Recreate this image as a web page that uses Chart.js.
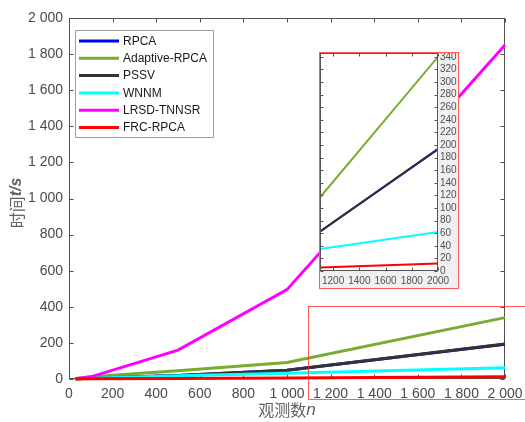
<!DOCTYPE html>
<html><head><meta charset="utf-8">
<script src="https://cdn.jsdelivr.net/npm/chart.js@4.4.0/dist/chart.umd.min.js"></script>
<style>
html,body{margin:0;padding:0;background:#fff;}
#wrap{position:relative;width:525px;height:422px;overflow:hidden;}
#main{position:absolute;left:0;top:0;}
#inset{position:absolute;left:319px;top:52px;background:#f0f0f0;}
</style></head><body>
<div id="wrap"><canvas id="main" width="525" height="422"></canvas><canvas id="inset" width="140" height="237"></canvas></div>
<script>
// ---- data ----
const nObs = [30, 100, 500, 1000, 2000];
const seriesNames = ['RPCA', 'Adaptive-RPCA', 'PSSV', 'WNNM', 'LRSD-TNNSR', 'FRC-RPCA'];
const rpcaT = [1, 4, 20, 48, 193];
const adaptiveT = [3, 13, 46, 92, 340];
const pssvT = [1, 4, 20, 48, 194];
const wnnmT = [1, 4, 18, 32, 62];
const lrsdT = [2, 12, 160, 495, 1850];
const frcT = [0.5, 1, 3, 5, 12];
const xTicksMain = [0, 200, 400, 600, 800, 1000, 1200, 1400, 1600, 1800, 2000];
const yTicksMain = [0, 200, 400, 600, 800, 1000, 1200, 1400, 1600, 1800, 2000];
const xTicksInset = [1200, 1400, 1600, 1800, 2000];
const yTicksInset = [0, 20, 40, 60, 80, 100, 120, 140, 160, 180, 200, 220, 240, 260, 280, 300, 320, 340];
const xTitleText = ['观测数', 'n'];
const yTitleText = ['时间', 't/s'];

// ---- styles ----
const seriesColors = ['#0000ff', '#77ac30', '#333333', '#00ffff', '#ff00ff', '#ff0000'];
const allT = [rpcaT, adaptiveT, pssvT, wnnmT, lrsdT, frcT];
const LAT = '"Liberation Sans", Arial, sans-serif';
const CJK = '"Noto Sans CJK SC", sans-serif';
const fmt = v => String(v).replace(/\B(?=(\d{3})+(?!\d))/g, ' ');

function makeDatasets(w, clip) {
  return seriesNames.map((name, i) => ({
    label: name,
    data: nObs.map((n, j) => ({x: n, y: allT[i][j]})),
    borderColor: seriesColors[i], backgroundColor: seriesColors[i],
    borderWidth: w, pointRadius: 0, tension: 0, fill: false, clip: clip,
    order: seriesNames.length - i
  }));
}
function zeroPad(s) { s.paddingTop = 0; s.paddingBottom = 0; s.paddingLeft = 0; s.paddingRight = 0; }

function drawBox(chart, ticksX, ticksY, len, color) {
  const ctx = chart.ctx, ca = chart.chartArea;
  const xs = chart.scales.x, ys = chart.scales.y;
  ctx.save();
  ctx.strokeStyle = color; ctx.lineWidth = 1;
  const L = Math.round(ca.left) + 0.5, R = Math.round(ca.right) - 0.5;
  const T = Math.round(ca.top) + 0.5, B = Math.round(ca.bottom) - 0.5;
  ctx.strokeRect(L, T, R - L, B - T);
  ctx.beginPath();
  ticksX.forEach(v => {
    const p = Math.round(xs.getPixelForValue(v)) + 0.5;
    ctx.moveTo(p, B); ctx.lineTo(p, B - len);
    ctx.moveTo(p, T); ctx.lineTo(p, T + len);
  });
  ticksY.forEach(v => {
    const p = Math.round(ys.getPixelForValue(v)) + 0.5;
    ctx.moveTo(L, p); ctx.lineTo(L + len, p);
    ctx.moveTo(R, p); ctx.lineTo(R - len, p);
  });
  ctx.stroke();
  ctx.restore();
}

function drawMixed(ctx, parts, fonts, cx, cy, rotate) {
  ctx.save();
  ctx.translate(cx, cy);
  if (rotate) ctx.rotate(-Math.PI / 2);
  let widths = parts.map((t, i) => { ctx.font = fonts[i]; return ctx.measureText(t).width; });
  let total = widths.reduce((a, b) => a + b, 0);
  let x = -total / 2;
  ctx.textBaseline = 'middle'; ctx.textAlign = 'left';
  parts.forEach((t, i) => { ctx.font = fonts[i]; ctx.fillText(t, x, 0); x += widths[i]; });
  ctx.restore();
}

const mainPlugin = {
  id: 'mainDeco',
  beforeDatasetsDraw(chart) {
    drawBox(chart, xTicksMain, yTicksMain, 4, '#505050');
  },
  afterDraw(chart) {
    const ctx = chart.ctx, ca = chart.chartArea;
    const xs = chart.scales.x, ys = chart.scales.y;
    // zoom region rectangle
    ctx.save();
    ctx.strokeStyle = 'rgba(255,40,40,0.75)'; ctx.lineWidth = 1;
    const x1 = Math.round(xs.getPixelForValue(1100)) - 0.5;
    const y1 = Math.round(ys.getPixelForValue(405)) + 0.5;
    const y2 = Math.round(ys.getPixelForValue(-110)) + 0.5;
    ctx.strokeRect(x1, y1, chart.width + 10 - x1, y2 - y1);
    ctx.restore();
    // legend
    ctx.save();
    const lx = ca.left + 6, ly = ca.top + 11.5, lw = 138, lh = 107;
    ctx.fillStyle = '#ffffff';
    ctx.fillRect(lx, ly, lw, lh);
    ctx.strokeStyle = '#a0a0a0'; ctx.lineWidth = 1;
    ctx.strokeRect(Math.round(lx) + 0.5, Math.round(ly) + 0.5, lw, lh);
    ctx.font = '12px ' + LAT; ctx.textBaseline = 'middle'; ctx.fillStyle = '#1a1a1a';
    chart.data.datasets.forEach((ds, i) => {
      const y = ly + 11.5 + i * 17.3;
      ctx.strokeStyle = ds.borderColor; ctx.lineWidth = 3;
      ctx.beginPath(); ctx.moveTo(lx + 4, y); ctx.lineTo(lx + 44, y); ctx.stroke();
      ctx.fillText(ds.label, lx + 48, y + 0.5);
    });
    ctx.restore();
    // axis titles
    ctx.save();
    ctx.fillStyle = '#606060';
    drawMixed(ctx, xTitleText, ['16px ' + CJK, 'italic 17px ' + LAT], (ca.left + ca.right) / 2, 410, false);
    drawMixed(ctx, yTitleText, ['16px ' + CJK, 'italic bold 16px ' + LAT], 17, 203, true);
    ctx.restore();
  }
};

new Chart(document.getElementById('main'), {
  type: 'line',
  data: {datasets: makeDatasets(3, false)},
  options: {
    responsive: false, animation: false, devicePixelRatio: 1,
    layout: {padding: {top: 18, right: 20, left: 0, bottom: 0}},
    plugins: {legend: {display: false}, tooltip: {enabled: false}},
    scales: {
      x: {
        type: 'linear', min: 0, max: 2000,
        afterBuildTicks: s => { s.ticks = xTicksMain.map(v => ({value: v})); },
        grid: {display: false, drawTicks: false}, border: {display: false},
        ticks: {callback: v => fmt(v), color: '#4a4a4a', font: {family: LAT, size: 14}, padding: 7, maxRotation: 0, autoSkip: false},
        afterFit: s => { s.height = 43; zeroPad(s); }
      },
      y: {
        type: 'linear', min: 0, max: 2000,
        afterBuildTicks: s => { s.ticks = yTicksMain.map(v => ({value: v})); },
        grid: {display: false, drawTicks: false}, border: {display: false},
        ticks: {callback: v => fmt(v), color: '#4a4a4a', font: {family: LAT, size: 14}, padding: 6, autoSkip: false},
        afterFit: s => { s.width = 69; zeroPad(s); }
      }
    }
  },
  plugins: [mainPlugin]
});

const insetPlugin = {
  id: 'insetDeco',
  beforeDatasetsDraw(chart) {
    const ctx = chart.ctx, ca = chart.chartArea;
    ctx.save(); ctx.fillStyle = '#ffffff';
    ctx.fillRect(ca.left, ca.top, ca.right - ca.left, ca.bottom - ca.top);
    ctx.restore();
  },
  afterDraw(chart) {
    drawBox(chart, xTicksInset, yTicksInset, 3, '#555555');
    const ctx = chart.ctx;
    ctx.save();
    ctx.strokeStyle = '#ff5a5a'; ctx.lineWidth = 1;
    ctx.strokeRect(0.5, 0.5, chart.width - 1, chart.height - 1);
    ctx.restore();
  }
};

new Chart(document.getElementById('inset'), {
  type: 'line',
  data: {datasets: makeDatasets(2, true)},
  options: {
    responsive: false, animation: false, devicePixelRatio: 1,
    layout: {padding: {top: 1, left: 1, right: 0, bottom: 0}},
    plugins: {legend: {display: false}, tooltip: {enabled: false}},
    scales: {
      x: {
        type: 'linear', min: 1100, max: 2000,
        afterBuildTicks: s => { s.ticks = xTicksInset.map(v => ({value: v})); },
        grid: {display: false, drawTicks: false}, border: {display: false},
        ticks: {callback: v => String(v), color: '#505050', font: {family: LAT, size: 10}, padding: 4, maxRotation: 0, autoSkip: false},
        afterFit: s => { s.height = 18; zeroPad(s); }
      },
      y: {
        type: 'linear', position: 'right', min: 0, max: 346,
        afterBuildTicks: s => { s.ticks = yTicksInset.map(v => ({value: v})); },
        grid: {display: false, drawTicks: false}, border: {display: false},
        ticks: {callback: v => String(v), color: '#505050', font: {family: LAT, size: 10}, padding: 2, autoSkip: false},
        afterFit: s => { s.width = 21; zeroPad(s); }
      }
    }
  },
  plugins: [insetPlugin]
});
</script>
</body></html>
